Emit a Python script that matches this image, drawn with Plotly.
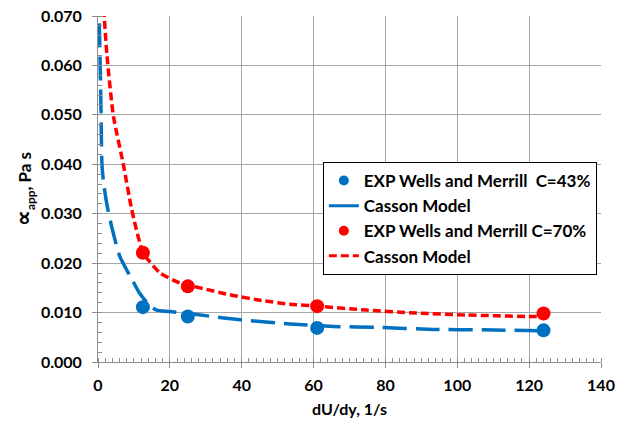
import plotly.graph_objects as go

# Experimental data (Wells and Merrill)
exp43_x = [12.5, 25, 61, 124]
exp43_y = [0.0111, 0.0092, 0.0069, 0.0064]
exp70_x = [12.5, 25, 61, 124]
exp70_y = [0.0221, 0.0153, 0.0113, 0.0098]

# Casson model curves
cas43_x = [0.35, 0.75, 1.1, 1.5, 2.4, 3.8, 6.1, 9.6, 11.5, 14.5, 16.3, 20, 27.5, 35, 41.5, 53.4, 65.5, 77.6, 93.3, 107, 124]
cas43_y = [0.0685, 0.055, 0.040, 0.0366, 0.0322, 0.0274, 0.0213, 0.0165, 0.0140, 0.0113, 0.0105, 0.0102, 0.0096, 0.0089, 0.0084, 0.0077, 0.0072, 0.0070, 0.0066, 0.0065, 0.0063]
cas70_x = [1.6, 2.5, 4.3, 7.0, 9.4, 12.6, 17.3, 22.8, 28.4, 36.7, 46, 53.4, 61, 74.8, 88.7, 102.6, 121, 124]
cas70_y = [0.0715, 0.062, 0.0497, 0.0402, 0.0308, 0.0221, 0.0180, 0.0160, 0.0150, 0.0136, 0.0124, 0.0117, 0.0113, 0.0105, 0.0099, 0.0095, 0.0092, 0.0092]

x_ticks = [0, 20, 40, 60, 80, 100, 120, 140]
y_ticks = [0.0, 0.01, 0.02, 0.03, 0.04, 0.05, 0.06, 0.07]

legend_names = ["EXP Wells and Merrill  C=43%", "Casson Model", "EXP Wells and Merrill C=70%", "Casson Model"]

BLUE = "#0070C0"
RED = "#FF0000"
FONT = "Lato"

fig = go.Figure()
fig.add_trace(go.Scatter(x=cas43_x, y=cas43_y, mode="lines", showlegend=False,
                         line=dict(color=BLUE, width=3.5, dash="24px,9px", shape="spline", smoothing=0.6)))
fig.add_trace(go.Scatter(x=cas70_x, y=cas70_y, mode="lines", showlegend=False,
                         line=dict(color=RED, width=3.5, dash="8px,4px", shape="spline", smoothing=0.6)))
fig.add_trace(go.Scatter(x=exp43_x, y=exp43_y, mode="markers", showlegend=False,
                         marker=dict(color=BLUE, size=14)))
fig.add_trace(go.Scatter(x=exp70_x, y=exp70_y, mode="markers", showlegend=False,
                         marker=dict(color=RED, size=14)))

# legend entries
fig.add_trace(go.Scatter(x=[None], y=[None], mode="markers", name=legend_names[0],
                         marker=dict(color=BLUE, size=10)))
fig.add_trace(go.Scatter(x=[None], y=[None], mode="lines", name=legend_names[1],
                         line=dict(color=BLUE, width=3)))
fig.add_trace(go.Scatter(x=[None], y=[None], mode="markers", name=legend_names[2],
                         marker=dict(color=RED, size=10)))
fig.add_trace(go.Scatter(x=[None], y=[None], mode="lines", name=legend_names[3],
                         line=dict(color=RED, width=3, dash="8px,4px")))

axis_common = dict(
    showgrid=True, gridcolor="#a6a6a6", gridwidth=1,
    showline=True, linecolor="#8c8c8c", linewidth=1, mirror=False,
    ticks="outside", ticklen=5, tickcolor="#8c8c8c",
    tickfont=dict(family=FONT, size=16, color="black", weight="bold"),
    zeroline=False, automargin=False,
)

fig.update_xaxes(range=[0, 140], tickvals=x_ticks, ticktext=[str(v) for v in x_ticks],
                 ticklabelstandoff=4,
                 title=dict(text="dU/dy, 1/s", font=dict(family=FONT, size=16, color="black", weight="bold"), standoff=10),
                 minor=dict(dtick=2, ticks="inside", ticklen=4, tickcolor="#8c8c8c", showgrid=False),
                 **axis_common)
fig.update_yaxes(range=[0, 0.07], tickvals=y_ticks, ticktext=[f"{v:.3f}" for v in y_ticks],
                 ticklabelstandoff=7,
                 title=dict(text="<span style='font-size:22px'>∝</span><sub>app</sub>, Pa s",
                            font=dict(family=FONT, size=17, color="black", weight="bold"), standoff=4),
                 minor=dict(dtick=0.002, ticks="inside", ticklen=4, tickcolor="#8c8c8c", showgrid=False),
                 **axis_common)

fig.update_layout(
    width=626, height=423,
    margin=dict(l=98, r=25, t=16, b=61),
    plot_bgcolor="white", paper_bgcolor="white",
    font=dict(family=FONT, color="black"),
    legend=dict(x=0.447, y=0.578, xanchor="left", yanchor="top",
                bgcolor="white", bordercolor="black", borderwidth=1,
                font=dict(family=FONT, size=17, color="black", weight="bold"),
                tracegroupgap=0, itemwidth=30),
)

fig.write_html("out.html")
